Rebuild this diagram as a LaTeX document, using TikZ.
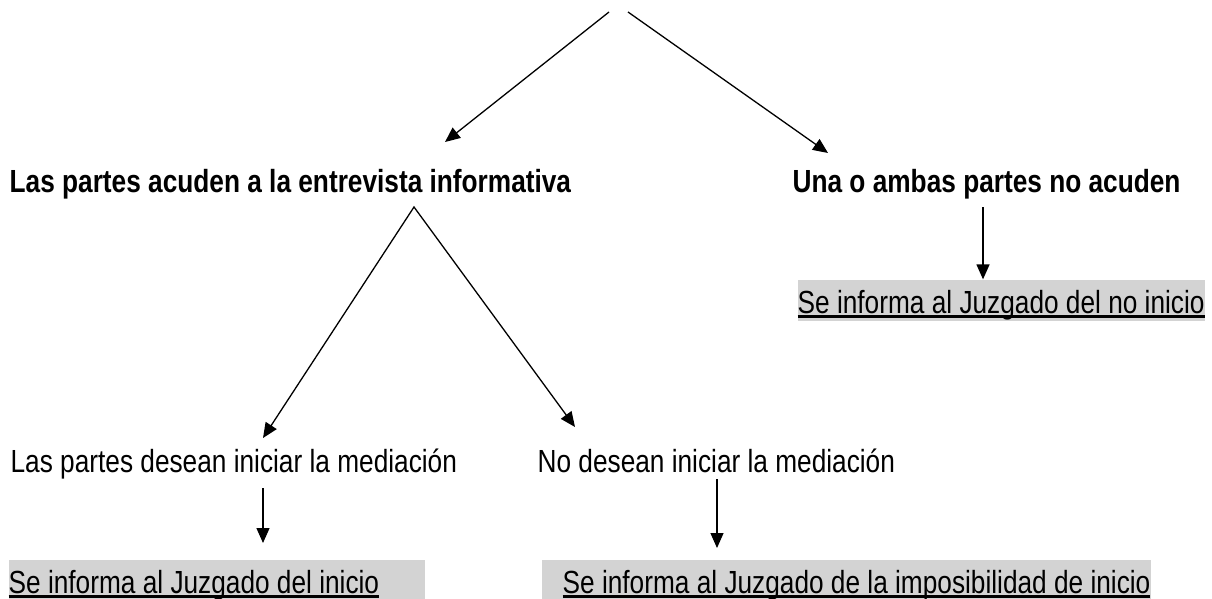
\documentclass[tikz,border=0pt]{standalone}
\usepackage{fontspec}
\setmainfont{Liberation Sans}[FakeStretch=0.82]
\usepackage{tikz}
\usetikzlibrary{arrows.meta}
\definecolor{shade}{RGB}{211,211,211}
\newcommand{\bigtext}{\fontsize{32}{38}\selectfont}
\newcommand{\subr}[1]{\setbox0=\hbox{#1}\rlap{\rule[-4.6pt]{\wd0}{2.3pt}}\box0}
\newcommand{\shaded}[3][0pt]{\makebox[#2][l]{\hspace*{#1}\subr{#3}}}
\tikzset{outcome/.style = {anchor=base west, inner sep=0pt, font=\bigtext\bfseries}}
\tikzset{choice/.style = {anchor=base west, inner sep=0pt, font=\bigtext}}
\tikzset{notice/.style = {anchor=base west, inner sep=0pt, fill=shade, font=\bigtext,
  text height=33pt, text depth=8pt}}

\begin{document}
\begin{tikzpicture}[x=1pt, y=-1pt, >={Triangle[length=15pt, width=13pt]}, line width=1.3pt]
  \useasboundingbox (0,0) rectangle (1212,598);

  % first level
  \node [outcome] (acuden) at (9,192) {Las partes acuden a la entrevista informativa};
  \node [outcome] (noacuden) at (792,192) {Una o ambas partes no acuden};
  \node [notice] (noinicio) at (797,313) {\shaded{407pt}{Se informa al Juzgado del no inicio}};

  % second level
  \node [choice] (desean) at (10,472) {Las partes desean iniciar la mediación};
  \node [choice] (nodesean) at (537,472) {No desean iniciar la mediación};
  \node [notice] (inicio) at (8,593) {\shaded{416pt}{Se informa al Juzgado del inicio}};
  \node [notice] (imposible) at (541,593) {\shaded[21pt]{609pt}{Se informa al Juzgado de la imposibilidad de inicio}};

  \coordinate (startL) at (609,12);
  \coordinate (startR) at (628,12);
  \coordinate (apex) at (414,207);
  \coordinate (tipA) at (445,142);
  \coordinate (tipB) at (828,153);
  \coordinate (tipC) at (263,438);
  \coordinate (tipD) at (575,427);
  \coordinate (stemR) at (983,207);
  \coordinate (stemL1) at (263,488);
  \coordinate (endL1) at (263,543);
  \coordinate (stemL2) at (717,479);
  \coordinate (endL2) at (717,548);

  \draw[->] (startL) -- (tipA);
  \draw[->] (startR) -- (tipB);
  \draw[<->] (tipC) -- (apex) -- (tipD);
  \draw[->] (stemR) -- (noinicio.north -| stemR);
  \draw[->] (stemL1) -- (endL1);
  \draw[->] (stemL2) -- (endL2);
\end{tikzpicture}
\end{document}
